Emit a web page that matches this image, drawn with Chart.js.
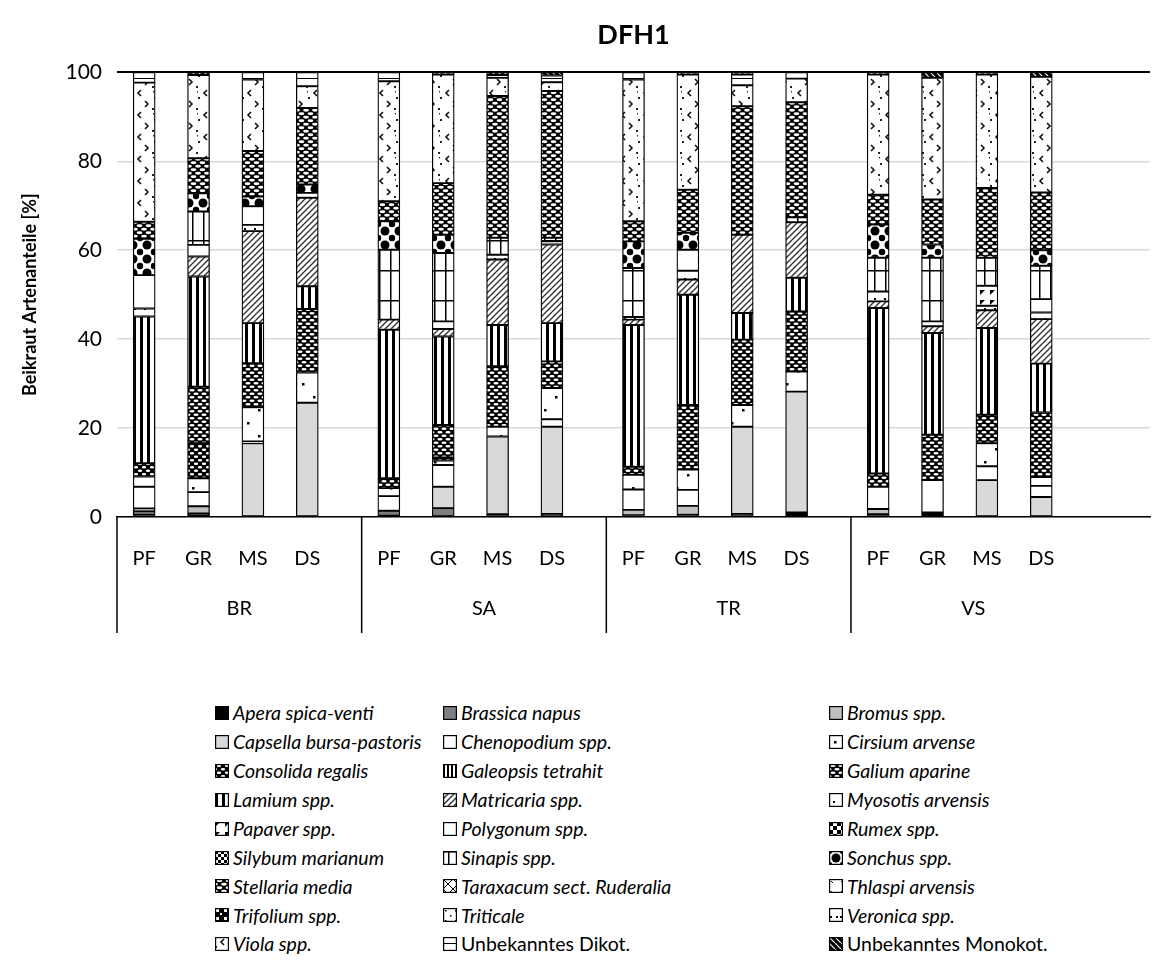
<!DOCTYPE html>
<html><head><meta charset="utf-8">
<script src="https://cdn.jsdelivr.net/npm/chart.js@4.4.0/dist/chart.umd.min.js"></script>
<style>
html,body{margin:0;padding:0;background:#fff;}
#wrap{position:relative;width:1156px;height:966px;overflow:hidden;}
#c{position:absolute;left:0;top:0;}
.li{position:absolute;display:flex;align-items:center;font-family:Lato,"Open Sans",sans-serif;font-size:19.5px;color:#000;white-space:nowrap;line-height:1;}
.li canvas{margin-right:4px;}
.li i{font-style:italic;}
</style></head><body>
<div id="wrap"><canvas id="c" width="1156" height="650"></canvas><div id="legend"></div></div>
<script>
const FONT = 'Lato, "Open Sans", sans-serif';
const groups = ['BR','SA','TR','VS'];
const treatments = ['PF','GR','MS','DS'];
const species = ['Apera spica-venti','Brassica napus','Bromus spp.','Capsella bursa-pastoris','Chenopodium spp.','Cirsium arvense','Consolida regalis','Galeopsis tetrahit','Galium aparine','Lamium spp.','Matricaria spp.','Myosotis arvensis','Papaver spp.','Polygonum spp.','Rumex spp.','Silybum marianum','Sinapis spp.','Sonchus spp.','Stellaria media','Taraxacum sect. Ruderalia','Thlaspi arvensis','Trifolium spp.','Triticale','Veronica spp.','Viola spp.','Unbekanntes Dikot.','Unbekanntes Monokot.'];
const italicSpecies = species.map(s => !s.startsWith('Unbekanntes'));

// values per bar: BR PF,GR,MS,DS | SA ... | TR ... | VS ...
const apera       = [0.5,0.8,0,0,     0.3,0,0.6,0.7,     0.4,0.5,0.7,1.0,    0.6,1.0,0,0];
const brassica    = [0.8,0,0,0,       1.1,2.0,0,0,       0,0,0,0,            0,0,0,0];
const bromus      = [0.6,1.6,0,0,     0,0,0,0,           1.2,2.0,0,0,        1.2,0,0,0];
const capsella    = [0,0,16.6,25.7,   0,4.8,17.5,19.6,   0,0,19.6,27.2,      0,0,8.3,4.5];
const chenopodium = [4.9,3.2,0.4,0,   3.3,4.9,0,1.7,     4.6,3.6,0,0,        5.0,7.3,3.1,2.5];
const cirsium     = [2.3,3.1,7.7,6.8, 1.8,1.0,2.2,7.0,   3.3,4.6,4.9,4.5,    0,0,5.2,2.0];
const consolida   = [3.0,7.9,0,0,     0,0.7,0,0,         0,0,0,0,            0,0,0,0];
const galeopsis   = [0,0,0,0,         0,0,0,0,           0,0,0,0,            0,0,0,0];
const galium      = [0,12.7,9.9,14.3, 2.2,7.3,13.6,6.0,  1.8,14.5,14.7,13.5, 3.0,10.2,6.4,14.5];
const lamium      = [33.0,24.8,9.0,5.1, 33.4,19.9,9.3,8.6, 31.9,24.8,6.0,7.6, 37.2,22.9,19.5,11.0];
const matricaria  = [0,4.5,20.7,19.9, 2.3,1.7,14.7,17.7, 1.2,3.4,17.6,12.5,  1.5,1.5,4.0,10.0];
const myosotis    = [1.8,0,1.4,1.1,   0,1.7,1.1,0.7,     0.6,2.0,0,0,        2.2,1.1,1.0,1.5];
const papaver     = [0,0,0,0,         0,0,0,0,           0,0,0,0,            0,0,4.5,0];
const polygonum   = [7.5,2.6,4.2,0,   0,0,0,0,           0,4.7,0,0,          0,0,0,3.0];
const rumex       = [0,0,0,0,         0,0,0,0,           0,0,0,0,            0,0,0,0];
const silybum     = [0,0,0,0,         0,0,0,0,           0,0,0,0,            0,0,0,0];
const sinapis     = [0,7.5,0,0,       15.7,15.4,3.8,0.8, 11.0,0,0,1.1,       7.6,14.3,6.3,7.5];
const sonchus     = [8.2,4.1,2.2,1.9, 6.4,4.1,0,0,       6.0,3.8,0,0,        7.5,3.0,0,3.5];
const stellaria   = [3.8,7.9,10.2,17.2, 4.5,11.6,31.9,33.0, 4.5,9.7,28.9,25.9, 6.7,10.1,15.7,13.0];
const taraxacum   = [0,0,0,0,         0,0,0,0,           0,0,0,0,            0,0,0,0];
const thlaspi     = [0,0,0,0,         0,0,0,0,           0,0,0,0,            0,0,0,0];
const trifolium   = [0,0,0,0,         0,0,0,0,           0,0,0,0,            0,0,0,0];
const triticale   = [0,0,0,0,         0,0,0,0,           0,0,0,0,            0,0,0,0];
const veronica    = [0,0,0,0,         0,0,0,0,           0,0,0,0,            0,0,0,0];
const viola       = [31.3,18.7,16.1,4.9, 27.0,24.4,4.1,2.0, 31.9,25.9,4.7,5.3, 27.0,27.4,25.5,26.0];
const unbDikot    = [2.3,0,1.6,3.1,   2.0,0,0.6,1.5,     1.6,0,2.4,1.4,      0,0,0,0];
const unbMonokot  = [0,0.6,0,0,       0,0.5,0.6,0.7,     0,0.5,0.5,0,        0.5,1.2,0.5,1.0];

const seriesValues = [apera,brassica,bromus,capsella,chenopodium,cirsium,consolida,galeopsis,galium,lamium,matricaria,myosotis,papaver,polygonum,rumex,silybum,sinapis,sonchus,stellaria,taraxacum,thlaspi,trifolium,triticale,veronica,viola,unbDikot,unbMonokot];

// ---------- fill patterns ----------
function tile(w,h,draw){const c=document.createElement('canvas');c.width=w;c.height=h;const g=c.getContext('2d');draw(g,w,h);return c;}
const pctx = document.createElement('canvas').getContext('2d');
function pat(w,h,draw){return pctx.createPattern(tile(w,h,draw),'repeat');}
function bg(g,w,h,col){g.fillStyle=col;g.fillRect(0,0,w,h);}
function ovalPat(w,h,rx,ry){return pat(w,h,(g)=>{bg(g,w,h,'#000');g.fillStyle='#fff';[[w/2,h/4],[0,3*h/4],[w,3*h/4]].forEach(([x,y])=>{g.beginPath();g.ellipse(x,y,rx,ry,0,0,7);g.fill();});});}
const styleMakers = {
  black:()=>'#000000',
  gray:()=>'#7f7f7f',
  silver:()=>'#bfbfbf',
  light:()=>'#d9d9d9',
  white:()=>'#ffffff',
  sparseDots:()=>pat(22,26,(g,w,h)=>{bg(g,w,h,'#fff');g.fillStyle='#000';g.fillRect(5,6,2.5,2.5);g.fillRect(16,19,2.5,2.5);}),
  blackDots:()=>ovalPat(8,7,2.2,1.2),
  fineStripes:()=>pat(4,4,(g,w,h)=>{bg(g,w,h,'#fff');g.fillStyle='#000';g.fillRect(0,0,2,h);}),
  ovals:()=>ovalPat(8,7,2.6,1.3),
  ovals2:()=>ovalPat(9,7,2.9,1.4),
  lamium:()=>pat(7,1,(g,w,h)=>{bg(g,w,h,'#fff');g.fillStyle='#000';g.fillRect(0,0,3,1);}),
  diag:()=>pat(6,6,(g,w,h)=>{bg(g,w,h,'#fff');g.strokeStyle='#333';g.lineWidth=1.4;g.beginPath();g.moveTo(-1,7);g.lineTo(7,-1);g.moveTo(-1,1);g.lineTo(1,-1);g.moveTo(5,7);g.lineTo(7,5);g.stroke();}),
  myosotis:()=>pat(10,10,(g,w,h)=>{bg(g,w,h,'#fff');g.fillStyle='#000';g.fillRect(4,8,2,2);}),
  papaver:()=>pat(10,10,(g,w,h)=>{bg(g,w,h,'#fff');g.fillStyle='#000';g.beginPath();g.moveTo(0,0);g.lineTo(5,0);g.lineTo(0,5);g.fill();}),
  polygonum:()=>'#ffffff',
  rumex:()=>pat(8,8,(g,w,h)=>{bg(g,w,h,'#fff');g.fillStyle='#000';g.fillRect(0,0,4,4);g.fillRect(4,4,4,4);}),
  silybum:()=>pat(6,6,(g,w,h)=>{bg(g,w,h,'#fff');g.fillStyle='#000';g.fillRect(0,0,3,3);g.fillRect(3,3,3,3);}),
  grid:()=>pat(11,30,(g,w,h)=>{bg(g,w,h,'#fff');g.fillStyle='#000';g.fillRect(5,0,1.5,h);g.fillRect(0,0,w,1.5);}),
  circles:()=>pat(14,14,(g,w,h)=>{bg(g,w,h,'#fff');g.fillStyle='#000';g.beginPath();g.arc(7,7,4.5,0,7);g.fill();[[0,0],[14,0],[0,14],[14,14]].forEach(([x,y])=>{g.beginPath();g.arc(x,y,3.2,0,7);g.fill();});}),
  taraxacum:()=>pat(10,10,(g,w,h)=>{bg(g,w,h,'#fff');g.strokeStyle='#000';g.beginPath();g.moveTo(0,0);g.lineTo(10,10);g.moveTo(10,0);g.lineTo(0,10);g.stroke();}),
  thlaspi:()=>pat(10,10,(g,w,h)=>{bg(g,w,h,'#fff');g.strokeStyle='#000';g.beginPath();g.moveTo(2,2);g.lineTo(4,4);g.stroke();}),
  trifolium:()=>pat(8,8,(g,w,h)=>{bg(g,w,h,'#000');g.fillStyle='#fff';g.fillRect(1,1,3,3);g.fillRect(5,5,2,2);}),
  triticale:()=>pat(10,10,(g,w,h)=>{bg(g,w,h,'#fff');g.fillStyle='#000';g.fillRect(2,2,1.5,1.5);g.fillRect(7,7,1.5,1.5);}),
  veronica:()=>pat(10,10,(g,w,h)=>{bg(g,w,h,'#fff');g.fillStyle='#000';g.fillRect(1,8,2,2);g.fillRect(7,8,2,2);}),
  chevron:()=>pat(22,22,(g,w,h)=>{bg(g,w,h,'#fff');g.strokeStyle='#111';g.lineWidth=1.6;g.beginPath();g.moveTo(9,2);g.lineTo(6,5);g.lineTo(9,8);g.moveTo(13,13);g.lineTo(16,16);g.lineTo(13,19);g.stroke();g.fillStyle='#222';g.fillRect(0,9,2,2);g.fillRect(20,20,2,2);g.fillRect(21,3,1.5,1.5);}),
  hline:()=>pat(10,12,(g,w,h)=>{bg(g,w,h,'#fff');g.fillStyle='#000';g.fillRect(0,6,w,1);}),
  blackDiag:()=>pat(6,6,(g,w,h)=>{bg(g,w,h,'#000');g.strokeStyle='#fff';g.lineWidth=1.2;g.beginPath();g.moveTo(-1,-1);g.lineTo(7,7);g.stroke();})
};
const speciesStyle = ['black','gray','silver','light','white','sparseDots','blackDots','fineStripes','ovals','lamium','diag','myosotis','papaver','polygonum','rumex','silybum','grid','circles','ovals2','taraxacum','thlaspi','trifolium','triticale','veronica','chevron','hline','blackDiag'];
const fills = speciesStyle.map(k => styleMakers[k]());

// ---------- category axis in half-slot steps: each group spans 9 half-slots ----------
const HALF_PER_GROUP = 9, TOTAL_HALF = 38;
const labels = Array(TOTAL_HALF + 1).fill('');
const slotIndex = [];
groups.forEach((g,gi)=>{
  treatments.forEach((t,ti)=>{ const k = gi*HALF_PER_GROUP + 2*ti + 1; slotIndex.push(k); labels[k] = t; });
});
function expand(arr){ const out = labels.map(()=>null); arr.forEach((v,i)=>{ out[slotIndex[i]] = v; }); return out; }

const datasets = species.map((name,i)=>({
  label:name, data:expand(seriesValues[i]), backgroundColor:fills[i],
  borderColor:'#000', borderWidth:1.3, borderSkipped:false, barThickness:22
}));

const groupPlugin = {
  id:'groupLabels',
  afterDraw(chart){
    const x = chart.scales.x, ca = chart.chartArea, ctx = chart.ctx;
    ctx.save();
    ctx.strokeStyle = '#000'; ctx.lineWidth = 1.5;
    ctx.fillStyle = '#000'; ctx.font = '20px ' + FONT; ctx.textAlign='center'; ctx.textBaseline='middle';
    groups.forEach((g,gi)=>{
      const left = x.getPixelForValue(gi*HALF_PER_GROUP);
      const right = x.getPixelForValue((gi+1)*HALF_PER_GROUP);
      ctx.beginPath(); ctx.moveTo(left, ca.bottom); ctx.lineTo(left, ca.bottom + 116); ctx.stroke();
      ctx.fillText(g, (left+right)/2, ca.bottom + 92);
    });
    ctx.restore();
  }
};

new Chart(document.getElementById('c'), {
  type:'bar',
  data:{labels, datasets},
  plugins:[groupPlugin],
  options:{
    responsive:false, animation:false, devicePixelRatio:1,
    layout:{padding:{left:0,right:6,top:0,bottom:0}},
    plugins:{
      legend:{display:false}, tooltip:{enabled:false},
      title:{display:true, fullSize:false, text:'DFH1', color:'#000', font:{family:FONT,size:27,weight:'bold'}, padding:{top:19,bottom:21}}
    },
    scales:{
      x:{stacked:true, offset:false, grid:{display:false}, border:{display:true,color:'#000',width:1.5},
         ticks:{color:'#000', font:{family:FONT,size:20}, maxRotation:0, autoSkip:false, padding:22},
         afterFit(s){ s.height = 133; s.paddingRight = 0; s.paddingLeft = 0; }},
      y:{stacked:true, min:0, max:100,
         ticks:{stepSize:20, color:'#000', font:{family:FONT,size:21}, padding:15},
         grid:{drawTicks:false, color:c=>c.tick && c.tick.value===100 ? '#000' : '#d9d9d9', lineWidth:c=>c.tick && c.tick.value===100 ? 2 : 1.5},
         border:{display:false},
         title:{display:true, text:'Beikraut Artenanteile [%]', color:'#000', font:{family:FONT,size:18,weight:'bold'}, padding:{top:19,bottom:0}},
         afterFit(s){ s.width = 117; s.paddingTop = 0; s.paddingBottom = 0; }}
    }
  }
});

// ---------- legend (3 columns) ----------
const legend = document.getElementById('legend');
const colX = [215, 443, 829];
const rowY0 = 713, rowStep = 28.9;
species.forEach((name,i)=>{
  const col = i % 3, row = Math.floor(i/3);
  const d = document.createElement('div'); d.className='li';
  d.style.left = colX[col]+'px'; d.style.top = (rowY0 + row*rowStep - 11)+'px'; d.style.height='22px';
  const ic = document.createElement('canvas'); ic.width=14; ic.height=14;
  const g = ic.getContext('2d'); g.fillStyle = fills[i]; g.fillRect(0,0,14,14);
  g.strokeStyle='#000'; g.lineWidth=1.2; g.strokeRect(0.6,0.6,12.8,12.8);
  d.appendChild(ic);
  const t = document.createElement(italicSpecies[i] ? 'i' : 'span'); t.textContent = name;
  d.appendChild(t);
  legend.appendChild(d);
});
</script>
</body></html>
